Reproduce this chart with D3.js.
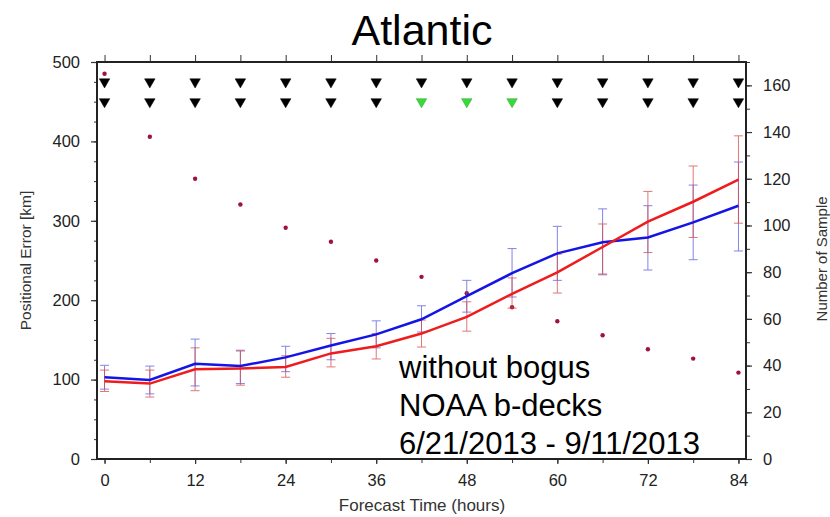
<!DOCTYPE html>
<html>
<head>
<meta charset="utf-8">
<script src="https://cdn.jsdelivr.net/npm/d3@7"></script>
<style>
  body { margin: 0; background: #fff; }
  text { font-family: "Liberation Sans", Arial, Helvetica, sans-serif; }
</style>
</head>
<body>
<svg id="chart" width="830" height="517"></svg>
<script>
// forecast lead times (hours)
var hours = [0, 6, 12, 18, 24, 30, 36, 42, 48, 54, 60, 66, 72, 78, 84];

// blue run: mean positional error and error bar ends (km)
var blueMean = [103, 99.5, 120, 117, 128, 143, 157, 176, 205, 234, 259, 273, 279, 298, 319];
var blueLo   = [88, 82, 92, 95, 110, 125, 140, 160, 185, 204, 225, 232, 238, 251, 262];
var blueHi   = [118, 117, 151, 137, 142, 158, 174, 193, 225, 265, 293, 315, 319, 345, 374];

// red run
var redMean = [98, 95, 113, 114, 116, 133, 142, 158, 179, 208, 235, 267, 299, 324, 352];
var redLo   = [85, 78, 86, 93, 103, 116, 126, 141, 161, 190, 209, 233, 260, 279, 297];
var redHi   = [112, 112, 140, 136, 130, 152, 158, 175, 198, 228, 258, 296, 337, 369, 407];

// number of samples (right axis)
var samples = [165, 138, 120, 109, 99, 93, 85, 78, 71, 65, 59, 53, 47, 43, 37];

// significance markers: row 1 all black, row 2 green where flagged
var row1Flag = [0, 0, 0, 0, 0, 0, 0, 0, 0, 0, 0, 0, 0, 0, 0];
var row2Flag = [0, 0, 0, 0, 0, 0, 0, 1, 1, 1, 0, 0, 0, 0, 0];

var leftTicks = [0, 100, 200, 300, 400, 500];
var rightTicks = [0, 20, 40, 60, 80, 100, 120, 140, 160];
var bottomTicks = [0, 12, 24, 36, 48, 60, 72, 84];

var note = ["without bogus", "NOAA b-decks", "6/21/2013 - 9/11/2013"];

var svg = d3.select("#chart");

var x = d3.scaleLinear().domain([-1, 85]).range([97, 746]);
var yL = d3.scaleLinear().domain([0, 500]).range([459, 62]);
var yR = d3.scaleLinear().domain([0, 170]).range([459, 62]);

// title
svg.append("text")
	.attr("x", 422).attr("y", 45)
	.attr("text-anchor", "middle")
	.attr("font-size", 43)
	.attr("fill", "#000")
	.text("Atlantic");

// minor ticks
function minor(axis, g){
	g.call(axis);
	g.select(".domain").remove();
	g.selectAll("text").remove();
	g.selectAll("line").attr("stroke", "#333");
}
minor(d3.axisLeft(yL).tickValues(d3.range(0, 501, 25)).tickSize(3),
	svg.append("g").attr("transform", "translate(97,0)"));
minor(d3.axisRight(yR).tickValues(d3.range(0, 171, 10)).tickSize(4),
	svg.append("g").attr("transform", "translate(746,0)"));
minor(d3.axisBottom(x).tickValues(d3.range(0, 85, 6)).tickSize(4),
	svg.append("g").attr("transform", "translate(0,459)"));
minor(d3.axisTop(x).tickValues(d3.range(0, 85, 6)).tickSize(7),
	svg.append("g").attr("transform", "translate(0,62)"));

// major axes
function styleAxis(g){
	g.select(".domain").remove();
	g.selectAll("line").attr("stroke", "#333").attr("stroke-width", 1.2);
	g.selectAll("text").attr("font-size", 16.5).attr("fill", "#222")
		.attr("font-family", "'Liberation Sans', Arial, sans-serif");
}
var gl = svg.append("g").attr("transform", "translate(97,0)")
	.call(d3.axisLeft(yL).tickValues(leftTicks).tickSize(6).tickPadding(11));
styleAxis(gl);
var gr = svg.append("g").attr("transform", "translate(746,0)")
	.call(d3.axisRight(yR).tickValues(rightTicks).tickSize(6).tickPadding(11));
styleAxis(gr);
var gb = svg.append("g").attr("transform", "translate(0,459)")
	.call(d3.axisBottom(x).tickValues(bottomTicks).tickSize(5).tickPadding(10));
styleAxis(gb);

// frame
svg.append("rect")
	.attr("x", x.range()[0]).attr("y", yL.range()[1])
	.attr("width", x.range()[1] - x.range()[0])
	.attr("height", yL.range()[0] - yL.range()[1])
	.attr("fill", "none")
	.attr("stroke", "#222")
	.attr("stroke-width", 2);

// axis titles
svg.append("text")
	.attr("transform", "translate(31," + yL(250) + ") rotate(-90)")
	.attr("text-anchor", "middle")
	.attr("font-size", 15.5).attr("fill", "#333")
	.text("Positional Error [km]");
svg.append("text")
	.attr("transform", "translate(827," + yL(252) + ") rotate(-90)")
	.attr("text-anchor", "middle")
	.attr("font-size", 15).attr("fill", "#333")
	.text("Number of Sample");
svg.append("text")
	.attr("x", 422).attr("y", 511)
	.attr("text-anchor", "middle")
	.attr("font-size", 17).attr("fill", "#333")
	.text("Forecast Time (hours)");

// sample count dots
svg.selectAll(".dot").data(samples).enter()
	.append("circle")
	.attr("class", "dot")
	.attr("cx", function(d, i){ return x(hours[i]); })
	.attr("cy", function(d){ return yR(d); })
	.attr("r", 2.2)
	.attr("fill", "#a0123c");

// error bars
function errorBars(lo, hi, color){
	var g = svg.append("g").attr("stroke", color).attr("stroke-width", 1).attr("opacity", 0.75);
	g.selectAll(null).data(hours).enter()
		.append("line")
		.attr("x1", function(d){ return x(d); })
		.attr("x2", function(d){ return x(d); })
		.attr("y1", function(d, i){ return yL(lo[i]); })
		.attr("y2", function(d, i){ return yL(hi[i]); });
	[lo, hi].forEach(function(arr){
		g.selectAll(null).data(hours).enter()
			.append("line")
			.attr("x1", function(d){ return x(d) - 4.5; })
			.attr("x2", function(d){ return x(d) + 4.5; })
			.attr("y1", function(d, i){ return yL(arr[i]); })
			.attr("y2", function(d, i){ return yL(arr[i]); });
	});
}
errorBars(blueLo, blueHi, "#5a5ae0");
errorBars(redLo, redHi, "#d84a4a");

// lines
var line = d3.line()
	.x(function(d){ return x(d[0]); })
	.y(function(d){ return yL(d[1]); });
svg.append("path")
	.datum(d3.zip(hours, blueMean))
	.attr("d", line)
	.attr("fill", "none")
	.attr("stroke", "#1414e6")
	.attr("stroke-width", 2.5);
svg.append("path")
	.datum(d3.zip(hours, redMean))
	.attr("d", line)
	.attr("fill", "none")
	.attr("stroke", "#ee1c1c")
	.attr("stroke-width", 2.5);

// triangle markers
var tri = d3.symbol().type(d3.symbolTriangle).size(48);
function markers(flags, level){
	svg.selectAll(null).data(flags).enter()
		.append("path")
		.attr("d", tri)
		.attr("transform", function(d, i){
			return "translate(" + x(hours[i]) + "," + yL(level) + ") rotate(180)";
		})
		.attr("fill", function(d){ return d ? "#3ad83a" : "#000"; })
		.attr("stroke", function(d){ return d ? "#2aa82a" : "#000"; })
		.attr("stroke-width", 0.5);
}
markers(row1Flag, 475);
markers(row2Flag, 450);

// annotation
svg.append("text")
	.attr("font-size", 31)
	.attr("fill", "#000")
	.selectAll("tspan").data(note).enter()
	.append("tspan")
	.attr("x", 399)
	.attr("y", function(d, i){ return 378 + i * 38; })
	.text(function(d){ return d; });
</script>
</body>
</html>
